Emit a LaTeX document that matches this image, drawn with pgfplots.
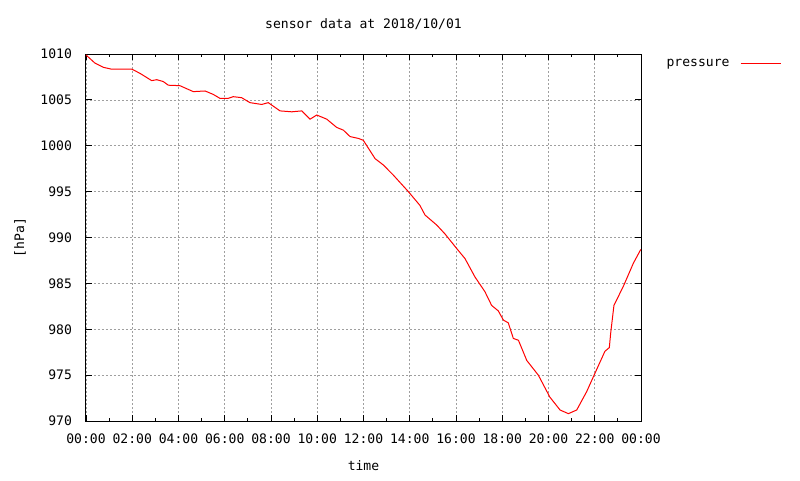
\documentclass[border=0pt]{standalone}
\usepackage{fontspec}
\setmainfont{DejaVu Sans Mono}
\usepackage{pgfplots}
\pgfplotsset{compat=1.18}

\begin{document}
\begin{tikzpicture}[font=\fontsize{9.8}{11}\selectfont]
\useasboundingbox (-64.5pt,-44.25pt) rectangle (535.5pt,315.75pt);
\begin{axis}[
  at={(0,0)}, anchor=south west,
  scale only axis,
  width=416.25pt, height=275.25pt,
  xmin=0, xmax=24,
  ymin=970, ymax=1010,
  xtick={0,2,...,24},
  xticklabels={00:00,02:00,04:00,06:00,08:00,10:00,12:00,14:00,16:00,18:00,20:00,22:00,00:00},
  minor x tick num=1,
  ytick={970,975,...,1010},
  /pgf/number format/assume math mode=true,
  /pgf/number format/set thousands separator={},
  tick align=inside,
  major tick length=4.5pt, minor tick length=2.25pt,
  tick style={black, line width=0.6pt},
  axis line style={line width=0.75pt},
  grid=major,
  grid style={gray!75, line width=0.5pt, dash pattern=on 1.5pt off 1.5pt},
  title={sensor data at 2018/10/01},
  title style={at={(0.5,1)}, anchor=center, yshift=16.5pt},
  xlabel={time},
  xlabel style={at={(0.5,0)}, anchor=center, yshift=-33.75pt},
  ylabel={[hPa]},
  ylabel style={at={(axis description cs:-0.119,0.5)}, anchor=center},
  xticklabel style={yshift=-5.75pt},
  yticklabel style={xshift=-7pt},
  legend plot pos=right,
  legend style={at={(1,1)}, anchor=north west, xshift=14pt, yshift=0.5pt,
    draw=none, fill=none, column sep=6pt, font=\fontsize{9.8}{11}\selectfont},
  legend image code/.code={\draw[#1] (0pt,0pt) -- (30pt,0pt);},
]
\addplot[red, line width=0.75pt] coordinates {
(0,1009.9) (0.39,1009.0) (0.75,1008.55) (1.1,1008.35) (1.98,1008.35)
(2.33,1007.9) (2.84,1007.1) (3.06,1007.2) (3.34,1007.0) (3.56,1006.6)
(4.06,1006.55) (4.64,1005.9) (5.15,1005.97) (5.5,1005.6) (5.79,1005.17)
(6.15,1005.17) (6.37,1005.35) (6.73,1005.24) (7.09,1004.7) (7.6,1004.5)
(7.88,1004.7) (8.39,1003.8) (8.9,1003.7) (9.33,1003.8) (9.69,1002.9)
(9.98,1003.35) (10.41,1002.9) (10.84,1002.0) (11.13,1001.7) (11.42,1001.0)
(11.78,1000.8) (11.99,1000.6) (12.5,998.6) (12.86,997.9) (13.29,996.8)
(13.94,995.0) (14.44,993.5) (14.66,992.45) (15.17,991.35) (15.52,990.4)
(16.03,988.8) (16.39,987.7) (16.82,985.7) (17.25,984.1) (17.54,982.6)
(17.83,982.0) (18.05,981.0) (18.26,980.7) (18.48,979.0) (18.7,978.8)
(19.06,976.6) (19.56,975.0) (20.06,972.6) (20.5,971.2) (20.86,970.8)
(21.22,971.2) (21.65,973.2) (22.08,975.6) (22.44,977.6) (22.63,978.0)
(22.69,979.6) (22.83,982.6) (23.24,984.7) (23.67,987.2) (23.99,988.7)
};
\addlegendentry{pressure}
\end{axis}
\end{tikzpicture}
\end{document}
